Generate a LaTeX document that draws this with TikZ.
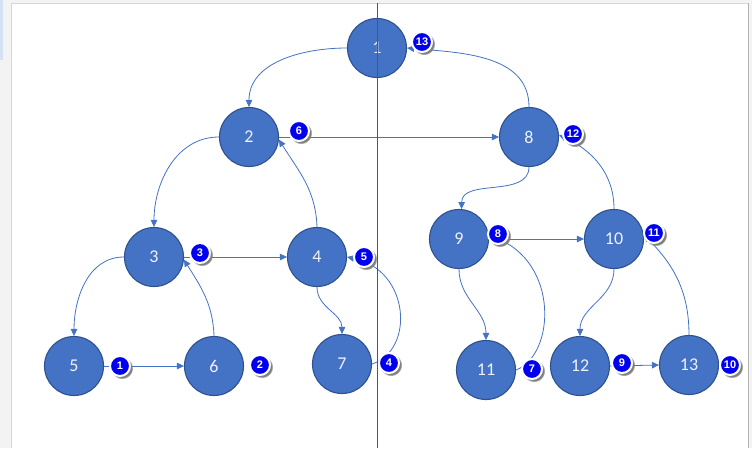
\documentclass[tikz,border=0pt]{standalone}
\usepackage{fontspec}
\setmainfont{Carlito}
\newfontfamily\badgefont{Liberation Sans}
\usetikzlibrary{arrows.meta,shadows}
\definecolor{nodeblue}{HTML}{4472C4}
\definecolor{nodeborder}{HTML}{2F528F}
\definecolor{badgeblue}{HTML}{0000EE}
\definecolor{axisline}{HTML}{3A5A8C}
\definecolor{pagegray}{HTML}{F3F3F3}
\definecolor{edgegray}{HTML}{D6D6D6}
\definecolor{tabblue}{HTML}{D3E3F4}
\definecolor{numwhite}{HTML}{EEF2FA}
\begin{document}
\begin{tikzpicture}[x=1pt,y=-1pt,
  vtx/.style={circle,fill=nodeblue,draw=nodeborder,line width=1.1pt,minimum size=59pt,inner sep=0pt,text=numwhite,font=\fontsize{18}{18}\selectfont},
  badge/.style={circle,fill=badgeblue,draw=white,line width=2pt,minimum size=20pt,inner sep=0pt,text=white,font=\badgefont\bfseries\fontsize{11}{11}\selectfont,circular drop shadow={shadow xshift=1.8pt,shadow yshift=-1.8pt,shadow scale=1.12}},
  arr/.style={draw=nodeblue,line width=0.8pt,-{Triangle[length=7pt,width=6.5pt]}},
  axis/.style={draw=axisline,line width=0.8pt}]
\useasboundingbox (0,0) rectangle (752,448);
% page background
\fill[pagegray] (0,0) rectangle (752,448);
\fill[white] (11,3) rectangle (748,448);
\draw[edgegray,line width=0.8pt] (11,448) -- (11,3) -- (748,3);
\draw[gray!60,line width=0.8pt] (748,3) -- (748,448);
\fill[tabblue] (0,0) rectangle (3,60);
% vertices
\node[vtx] (n1) at (377,48) {1};
\node[vtx] (n2) at (249,137) {2};
\node[vtx] (n8) at (529,137) {8};
\node[vtx] (n3) at (154,257) {3};
\node[vtx] (n4) at (317,257) {4};
\node[vtx] (n9) at (459,239) {9};
\node[vtx] (n10) at (614,239) {10};
\node[vtx] (n5) at (74,366) {5};
\node[vtx] (n6) at (214,366) {6};
\node[vtx] (n7) at (342,364) {7};
\node[vtx] (n11) at (486,370) {11};
\node[vtx] (n12) at (580,366) {12};
\node[vtx] (n13) at (689,365) {13};
% edges
\draw[arr] (n1.west) to[out=180,in=90] (n2.north);
\draw[arr] (n8.north) to[out=90,in=-5] (n1.east);
\draw[arr] (n2.east) -- (n8.west);
\draw[arr] (n4.north) to[out=92,in=-58] (n2.-5);
\draw[arr] (n2.west) to[out=180,in=90] (n3.north);
\draw[arr] (n3.east) -- (n4.west);
\draw[arr] (n6.north) to[out=92,in=-58] (n3.-5);
\draw[arr] (n3.west) to[out=180,in=90] (n5.north);
\draw[arr] (n5.east) -- (n6.west);
\draw[arr] (n4.south) to[out=-90,in=90] (n7.north);
\draw[arr] (n7.east) .. controls (415,350) and (410,270) .. (n4.east);
\draw[arr] (n8.south) to[out=-90,in=90] (n9.85);
\draw[arr] (n10.north) to[out=90,in=-25] (n8.4);
\draw[arr] (n9.east) -- (n10.west);
\draw[arr] (n9.south) to[out=-90,in=90] (n11.north);
\draw[arr] (n11.east) .. controls (555,355) and (560,262) .. (n9.7);
\draw[arr] (n10.south) to[out=-90,in=90] (n12.north);
\draw[arr] (n12.east) -- (n13.west);
\draw[arr] (n13.north) to[out=90,in=-45] (n10.8);
% divider
\coordinate (topend) at (377,3);
\coordinate (botend) at (377,448);
\draw[axis] (topend) -- (botend);
% order badges
\node[badge] (b1) at (120,366) {1};
\node[badge] (b2) at (260,365) {2};
\node[badge] (b3) at (200,253) {3};
\node[badge] (b4) at (389,363) {4};
\node[badge] (b5) at (364,257) {5};
\node[badge] (b6) at (299,131) {6};
\node[badge] (b7) at (532,369) {7};
\node[badge] (b8) at (498,234) {8};
\node[badge] (b9) at (622,363) {9};
\node[badge] (b10) at (730,365) {10};
\node[badge] (b11) at (654,233) {11};
\node[badge] (b12) at (573,134) {12};
\node[badge] (b13) at (422,42) {13};
\end{tikzpicture}
\end{document}
